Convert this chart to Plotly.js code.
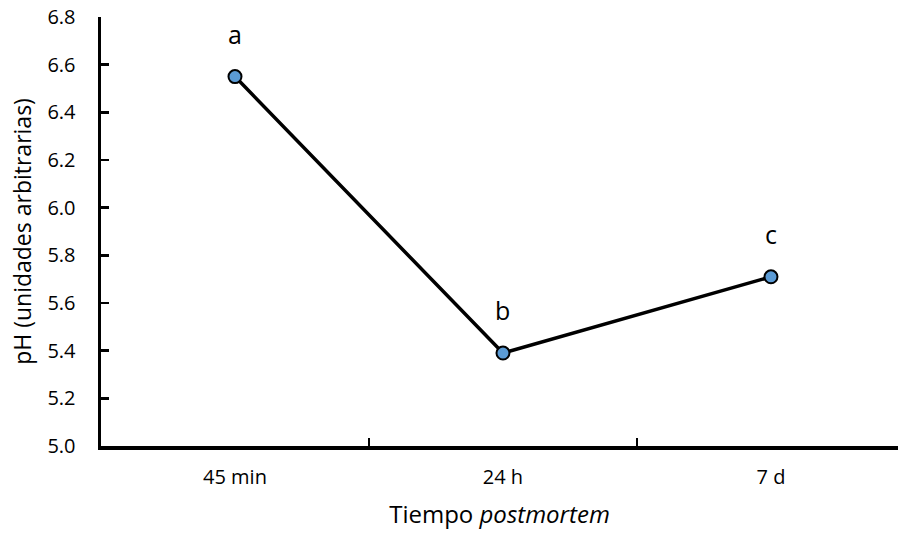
<!DOCTYPE html>
<html><head><meta charset="utf-8">
<script src="https://cdn.plot.ly/plotly-3.0.1.min.js"></script>
<style>html,body{margin:0;padding:0;background:#fff}#chart{width:898px;height:533px}</style>
</head><body><div id="chart"></div>
<script>
const categories = ["45 min", "24 h", "7 d"];
const phValues = [6.55, 5.39, 5.71];
const phErrors = [0.02, 0.02, 0.02];
const letters = ["a", "b", "c"];

const font = "'Open Sans', sans-serif";

const trace = {
  x: categories, y: phValues, type: "scatter", mode: "lines+markers",
  line: {color: "#000", width: 3.5},
  marker: {color: "#5B9BD5", size: 13, line: {color: "#000", width: 2}},
  error_y: {type: "data", array: phErrors, visible: true, color: "#000", thickness: 1.5, width: 4},
  hoverinfo: "skip"
};

const annotations = categories.map((c, i) => ({
  x: c, y: phValues[i], xref: "x", yref: "y", text: letters[i], showarrow: false,
  yshift: 43, font: {family: font, size: 25, color: "#000"}
}));

const layout = {
  width: 898, height: 533,
  margin: {l: 101, r: 0, t: 17, b: 87},
  paper_bgcolor: "#fff", plot_bgcolor: "#fff",
  showlegend: false,
  font: {family: font, color: "#000"},
  xaxis: {
    type: "category", range: [-0.5, 2.474],
    showline: true, linecolor: "#000", linewidth: 3.5,
    showgrid: false, zeroline: false,
    ticks: "inside", tickson: "boundaries", ticklen: 8, tickwidth: 2.5, tickcolor: "#000",
    tickfont: {family: font, size: 20}, ticklabelstandoff: 10,
    title: {text: "Tiempo <i>postmortem</i>", font: {family: font, size: 24}, standoff: 18}
  },
  yaxis: {
    range: [5.0, 6.8], dtick: 0.2, tick0: 5.0, tickformat: ".1f",
    showline: true, linecolor: "#000", linewidth: 3.5,
    showgrid: false, zeroline: false,
    ticks: "inside", ticklen: 8, tickwidth: 2.5, tickcolor: "#000",
    tickfont: {family: font, size: 20}, ticklabelstandoff: 18,
    title: {text: "pH (unidades arbitrarias)", font: {family: font, size: 23}, standoff: 10}
  },
  annotations: annotations
};

Plotly.newPlot("chart", [trace], layout, {displayModeBar: false, staticPlot: true});
</script></body></html>
